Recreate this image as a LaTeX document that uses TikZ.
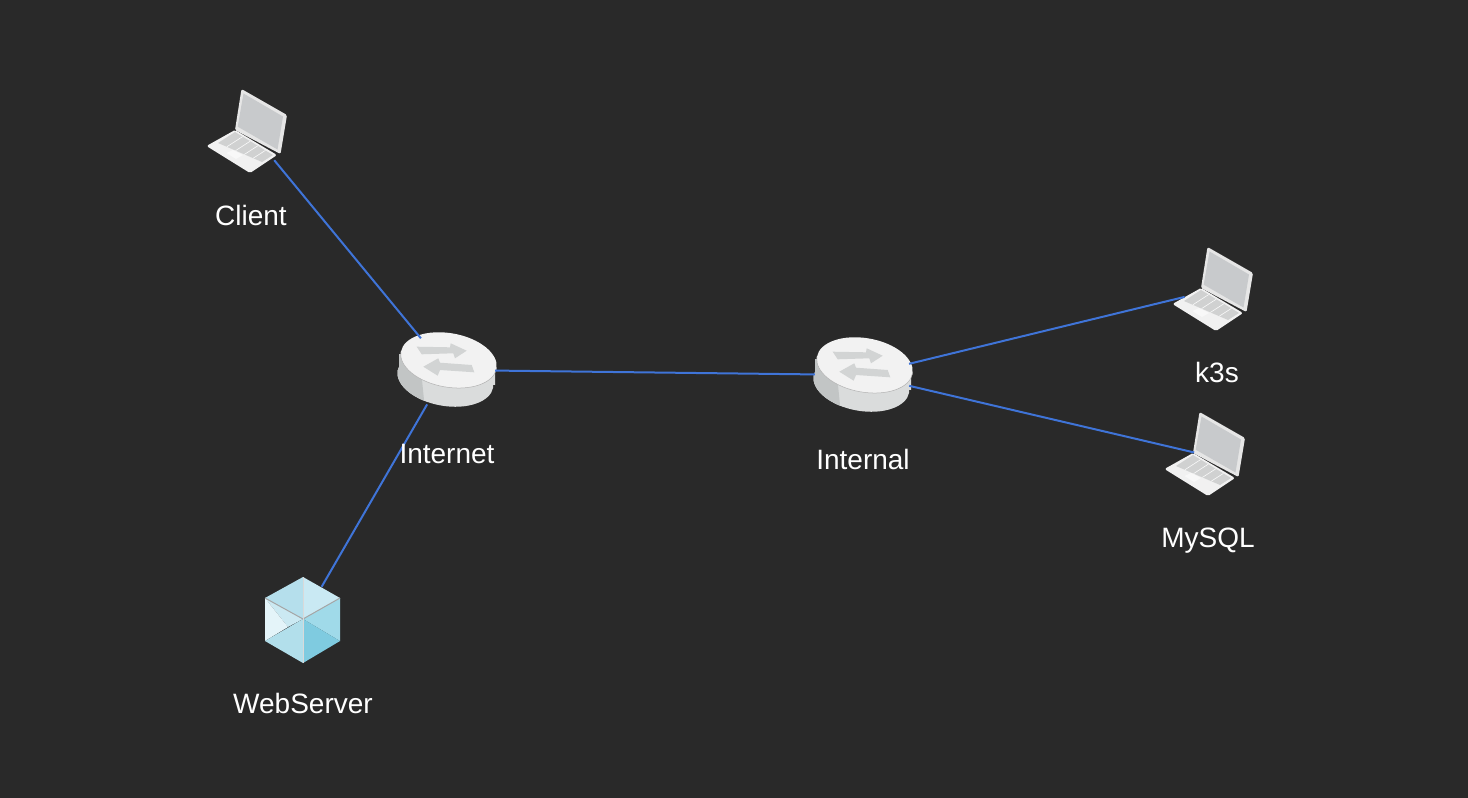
\documentclass[tikz,border=0pt]{standalone}
\usepackage{fontspec}
\setmainfont{Liberation Sans}
\usetikzlibrary{calc, positioning, shapes.geometric}
\definecolor{bgdark}{HTML}{292929}
\definecolor{linkblue}{HTML}{3F74D8}
\definecolor{lapbase}{HTML}{F1F1F1}
\definecolor{lapframe}{HTML}{E6E6E6}
\definecolor{lapscreen}{HTML}{C8CACC}
\definecolor{lapkeys}{HTML}{D0D1D1}
\definecolor{rtrtop}{HTML}{F2F2F2}
\definecolor{rtrside}{HTML}{DADCDC}
\definecolor{rtrdark}{HTML}{C2C5C5}
\definecolor{rtrarrow}{HTML}{D2D4D4}

\begin{document}
\begin{tikzpicture}[
  x=1pt, y=-1pt,
  host/.style={circle, inner sep=0pt},
  swnode/.style={ellipse, inner sep=0pt, minimum width=96pt, minimum height=75pt},
  lbl/.style={text=white, inner sep=0pt, text height=20pt, text depth=6pt,
              font=\fontsize{28}{32}\selectfont},
  link/.style={draw=linkblue, line width=2pt},
  laptop/.pic={
    % base and keyboard
    \fill[lapbase, rounded corners=1.5pt] (-40.5,14) -- (-12,-2) -- (30,23) -- (3,41) -- cycle;
    \fill[lapkeys] (-12,0) -- (26,23) -- (15,30) -- (-29,11) -- cycle;
    \foreach \k in {0.2,0.4,0.6,0.8}
      \draw[white!90!lapkeys, line width=0.6pt] ($(-12,0)!\k!(26,23)$) -- ($(-29,11)!\k!(15,30)$);
    \fill[white!85!lapkeys] (-20.5,21) -- (-14,18) -- (-4,23) -- (-11,27) -- cycle;
    % screen
    \fill[lapframe, rounded corners=1.5pt] (-5.5,-43) -- (40,-17) -- (33.5,22) -- (-12,-2) -- cycle;
    \fill[lapscreen] (-3.5,-38.5) -- (36,-15.5) -- (30.5,17.5) -- (-9.3,-5.3) -- cycle;
  },
  router/.pic={
    \fill[rtrside] (-48,-16) -- (-48,3) -- (48,15) -- (48,-4) -- cycle;
    \fill[rtrside, rotate=-10] (0,9) ellipse (48.5 and 27);
    \fill[rtrdark] (-48,-16) rectangle (-24,3);
    \begin{scope}
      \clip[rotate=-10] (0,9) ellipse (48.5 and 27);
      \fill[rtrdark] (-60,-20) -- (-25,10) -- (-22,40) -- (-60,40) -- cycle;
    \end{scope}
    \fill[rtrtop, rotate=-10] (0,-10) ellipse (48.5 and 27);
    \draw[gray!60, line width=0.5pt, rotate=-10] (-48.5,-10) arc[start angle=180, end angle=360, x radius=48.5, y radius=-27];
    \fill[rtrarrow] (-30.3,-23.3) -- (3,-22.7) -- (3.7,-26.7) -- (19.7,-19.3) -- (8,-11.7) -- (6.3,-16.7) -- (-25.3,-15.7) -- cycle;
    \fill[rtrarrow] (-23.7,-3.3) -- (-8.7,-11.7) -- (-7,-7.3) -- (24.7,-5) -- (27.3,2.3) -- (-7,0) -- (-9.3,5.7) -- cycle;
  },
  cube/.pic={
    \fill[fill={rgb,255:red,181;green,223;blue,236}] (0,-42) -- (-38,-21) -- (0,0) -- cycle;
    \fill[fill={rgb,255:red,201;green,233;blue,243}] (0,-42) -- (37,-21) -- (0,0) -- cycle;
    \fill[fill={rgb,255:red,160;green,218;blue,233}] (37,-21) -- (37,22) -- (0,0) -- cycle;
    \fill[fill={rgb,255:red,127;green,203;blue,224}] (0,0) -- (37,22) -- (0,44) -- cycle;
    \fill[fill={rgb,255:red,203;green,233;blue,242}] (-38,-21) -- (0,0) -- (-15,8) -- cycle;
    \fill[fill={rgb,255:red,228;green,244;blue,249}] (-38,-21) -- (-15,8) -- (-38,22) -- cycle;
    \fill[fill={rgb,255:red,178;green,223;blue,235}] (0,0) -- (-38,22) -- (0,44) -- cycle;
    \draw[gray!70, line width=1pt] (-38,-21) -- (0,0) -- (37,-21);
    \draw[gray!30, line width=1pt] (0,-42) -- (0,44);
  }
]
\fill[bgdark] (0,0) rectangle (1468,798);
\useasboundingbox (0,0) rectangle (1468,798);

\node[host, minimum size=78pt] (client) at (247,132) {};
\node[host, minimum size=58pt] (k3s) at (1213,290) {};
\node[host, minimum size=22pt] (mysql) at (1205,455) {};
\node[host, minimum size=74pt] (web) at (303,619) {};
\node[swnode] (inet) at (447,370) {};
\node[swnode] (intl) at (863,375) {};

\pic at (client) {laptop};
\pic at (k3s) {laptop};
\pic at (mysql) {laptop};
\pic at (web) {cube};
\pic at (inet) {router};
\pic at (intl) {router};

\draw[link] (client.-46) -- (inet);
\draw[link] (web) -- (inet);
\draw[link] (inet) -- (intl);
\draw[link] (intl) -- (k3s);
\draw[link] (intl) -- (mysql);

\node[lbl, below=34pt of client, xshift=4pt] (clientl) {Client};
\node[lbl, below=43pt of k3s, xshift=4pt] (k3sl) {k3s};
\node[lbl, below=61pt of mysql, xshift=3pt] (mysqll) {MySQL};
\node[lbl, below=37pt of web] (webl) {WebServer};
\node[lbl, below=36pt of inet] (inetl) {Internet};
\node[lbl, below=37pt of intl] (intll) {Internal};
\end{tikzpicture}
\end{document}
